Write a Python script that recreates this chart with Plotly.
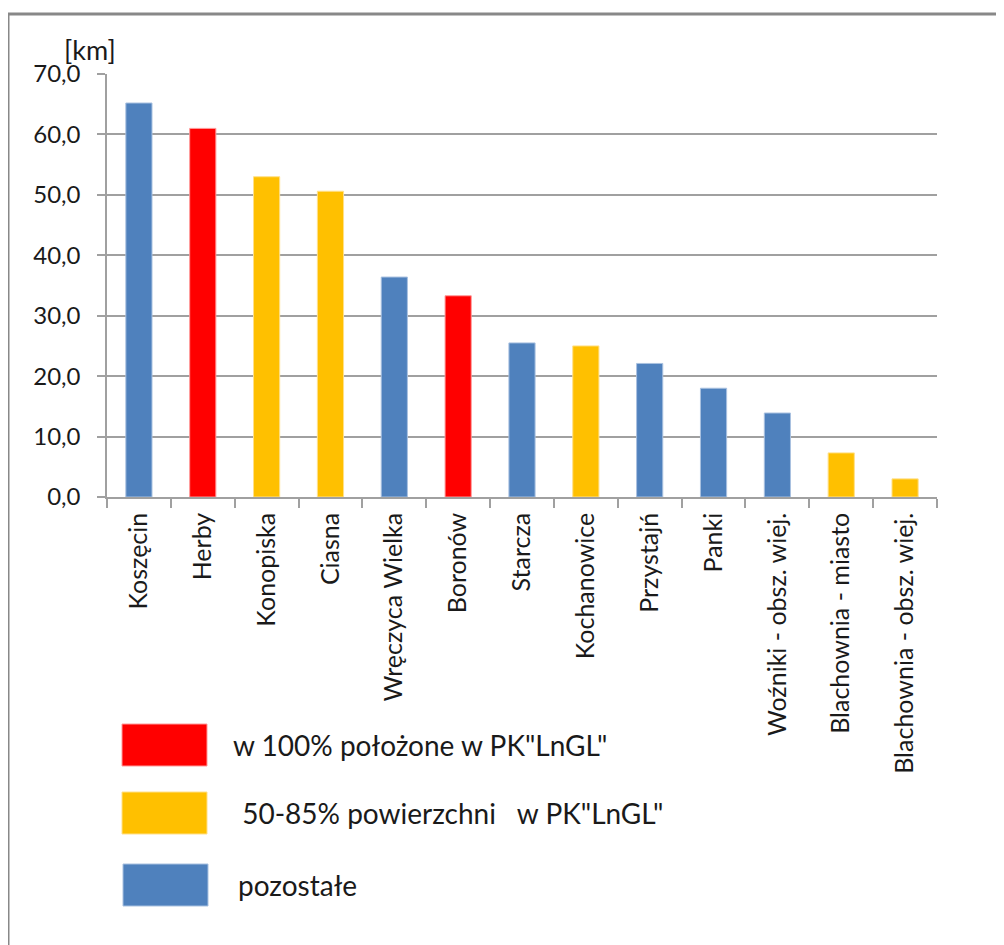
import plotly.graph_objects as go

# ---- data ----
categories = ["Koszęcin", "Herby", "Konopiska", "Ciasna", "Wręczyca Wielka", "Boronów",
              "Starcza", "Kochanowice", "Przystajń", "Panki", "Woźniki - obsz. wiej.",
              "Blachownia - miasto", "Blachownia - obsz. wiej."]
values_km = [65.2, 61.0, 53.0, 50.6, 36.4, 33.3, 25.5, 25.0, 22.1, 18.0, 13.9, 7.3, 3.0]
groups = ["other", "full", "partial", "partial", "other", "full",
          "other", "partial", "other", "other", "other", "partial", "partial"]
group_labels = {"full": 'w 100% położone w PK"LnGL"',
                "partial": ' 50-85% powierzchni   w PK"LnGL"',
                "other": "pozostałe"}
group_order = ["full", "partial", "other"]
colors = {"full": "#FF0000", "partial": "#FFC000", "other": "#4F81BD"}
line_colors = {"full": "#FF9A9A", "partial": "#FFE08A", "other": "#A9C1E0"}

OFF = 8  # page body margin
W, H = 1004 - OFF, 945 - OFF
# plot area in page pixels
PX0, PX1, PY0, PY1 = 107, 937, 74, 497
L, T = PX0 - OFF, PY0 - OFF
R, B = W - (PX1 - OFF), H - (PY1 - OFF)
FONT = "Lato"

def px_x(x):
    return (x - PX0) / (PX1 - PX0)

def px_y(y):
    return (PY1 - y) / (PY1 - PY0)

fig = go.Figure()
fig.add_trace(go.Bar(
    x=categories, y=values_km,
    marker=dict(color=[colors[g] for g in groups],
                line=dict(color=[line_colors[g] for g in groups], width=1)),
    showlegend=False, hoverinfo="x+y"))

fig.update_layout(
    width=W, height=H,
    margin=dict(l=L, r=R, t=T, b=B, autoexpand=False),
    paper_bgcolor="white", plot_bgcolor="white",
    bargap=0.59,
    separators=", ",
    font=dict(family=FONT, size=24, color="#1a1a1a"),
    xaxis=dict(type="category", tickangle=-90, tickson="boundaries",
               ticks="outside", ticklen=9, tickcolor="#A0A0A0", tickwidth=1.5,
               showline=True, linecolor="#A0A0A0", linewidth=1.5,
               showgrid=False, tickfont=dict(family=FONT, size=25, color="#1a1a1a"),
               ticklabelstandoff=4, fixedrange=True),
    yaxis=dict(range=[0, 70], dtick=10, tickformat=".1f",
               ticks="outside", ticklen=8, tickcolor="#A0A0A0", tickwidth=1.5,
               showline=True, linecolor="#A0A0A0", linewidth=1.5,
               showgrid=True, gridcolor="#A0A0A0", gridwidth=1.5,
               zeroline=False, tickfont=dict(family=FONT, size=24, color="#1a1a1a"),
               ticklabelstandoff=12, fixedrange=True),
)

# outer frame (left and top edges)
fig.add_shape(type="path", xref="paper", yref="paper",
              path=f"M {px_x(8)} {px_y(960)} L {px_x(8)} {px_y(14)} L {px_x(1020)} {px_y(14)}",
              line=dict(color="#888888", width=3))

# unit label
fig.add_annotation(x=px_x(62), y=px_y(49), xref="paper", yref="paper",
                   text="[km]", showarrow=False, xanchor="left", yanchor="middle",
                   font=dict(family=FONT, size=27, color="#1a1a1a"))

# custom legend
legend_boxes = {"full": (122, 724, 207, 766), "partial": (122, 792, 207, 834),
                "other": (123, 864, 208, 906)}
legend_text_x = {"full": 231, "partial": 233, "other": 236}
for g in group_order:
    x0, y0, x1, y1 = legend_boxes[g]
    fig.add_shape(type="rect", xref="paper", yref="paper",
                  x0=px_x(x0), x1=px_x(x1), y0=px_y(y1), y1=px_y(y0),
                  fillcolor=colors[g], line=dict(color=line_colors[g], width=1))
    fig.add_annotation(x=px_x(legend_text_x[g]), y=px_y((y0 + y1) / 2),
                       xref="paper", yref="paper", text=group_labels[g].replace("  ", "&nbsp;&nbsp;"),
                       showarrow=False, xanchor="left", yanchor="middle",
                       font=dict(family=FONT, size=28, color="#1a1a1a"))

fig.write_html("out.html")
